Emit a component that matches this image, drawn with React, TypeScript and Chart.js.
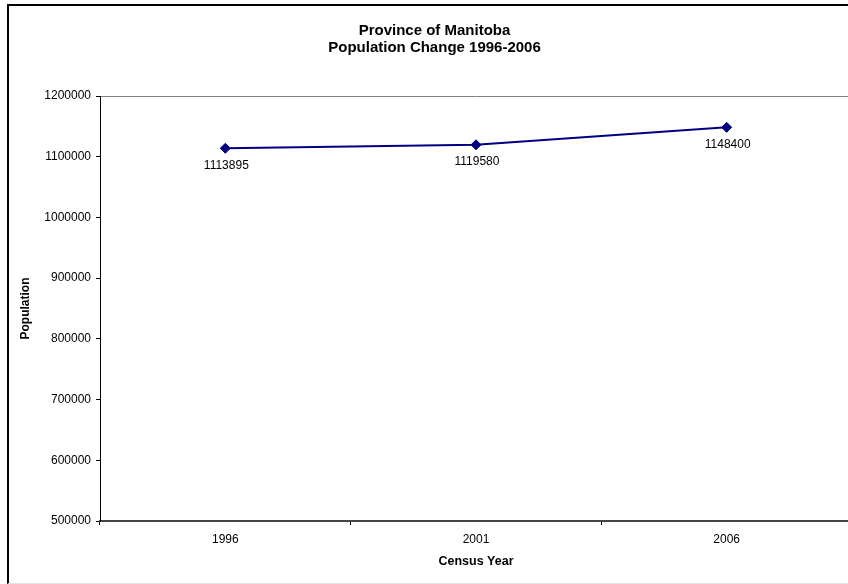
import React, { useEffect, useRef } from "react";
import { Chart, registerables } from "chart.js";

Chart.register(...registerables);

const titleLines = ["Province of Manitoba", "Population Change 1996-2006"];
const categories = ["1996", "2001", "2006"];
const population = [1113895, 1119580, 1148400];
const yMin = 500000;
const yMax = 1200000;
const yStep = 100000;
const xAxisTitle = "Census Year";
const yAxisTitle = "Population";

const FONT = "'Liberation Sans', Arial, Helvetica, sans-serif";

const dataLabelPlugin = {
  id: "dataLabels",
  afterDatasetsDraw(chart: any) {
    const ctx = chart.ctx;
    const meta = chart.getDatasetMeta(0);
    const values = chart.data.datasets[0].data;
    ctx.save();
    ctx.font = `12px ${FONT}`;
    ctx.fillStyle = "#000";
    ctx.textAlign = "center";
    ctx.textBaseline = "middle";
    meta.data.forEach((pt: any, i: number) => {
      ctx.fillText(String(values[i]), pt.x + 1, pt.y + 17);
    });
    ctx.restore();
  },
};

export default function App() {
  const ref = useRef<HTMLCanvasElement>(null);

  useEffect(() => {
    if (!ref.current) return;
    Chart.defaults.font.family = FONT;
    const chart = new Chart(ref.current, {
      type: "line",
      data: {
        labels: categories,
        datasets: [
          {
            data: population,
            borderColor: "#000080",
            backgroundColor: "#000080",
            borderWidth: 2,
            pointStyle: "rectRot",
            pointRadius: 5,
            pointBorderWidth: 1,
            pointBackgroundColor: "#000080",
            pointBorderColor: "#000080",
            tension: 0,
          },
        ],
      },
      options: {
        responsive: false,
        animation: false,
        layout: { padding: { left: 17, right: 18, top: 0, bottom: 0 } },
        plugins: {
          legend: { display: false },
          tooltip: { enabled: false },
          title: {
            display: true,
            text: titleLines,
            color: "#000",
            font: { size: 15, weight: "bold", lineHeight: 1.15, family: FONT },
            padding: { top: 22.4, bottom: 39.1 },
          },
        },
        scales: {
          x: {
            type: "category",
            offset: true,
            grid: {
              offset: true,
              drawOnChartArea: false,
              drawTicks: true,
              tickLength: 4,
              tickColor: "#000",
            },
            border: { color: "#444", width: 2 },
            ticks: {
              color: "#000",
              font: { size: 12, family: FONT },
              padding: 7,
              maxRotation: 0,
            },
            title: {
              display: true,
              text: xAxisTitle,
              color: "#000",
              font: { size: 12.5, weight: "bold", family: FONT },
              padding: { top: 0, bottom: 14.8 },
            },
            afterFit(scale: any) {
              scale.height = 63;
            },
          },
          y: {
            min: yMin,
            max: yMax,
            grid: {
              color: (c: any) => (c.tick && c.tick.value === yMax ? "#808080" : "rgba(0,0,0,0)"),
              lineWidth: 1,
              drawTicks: true,
              tickLength: 4,
              tickColor: "#000",
            },
            border: { color: "#000", width: 1 },
            ticks: {
              stepSize: yStep,
              color: "#000",
              font: { size: 12, family: FONT },
              padding: 5,
              callback: (v: any) => String(v),
            },
            title: {
              display: true,
              text: yAxisTitle,
              color: "#000",
              font: { size: 12, weight: "bold", family: FONT },
              padding: { top: 1.8, bottom: 0 },
            },
            afterFit(scale: any) {
              scale.width = 83;
            },
          },
        },
      },
      plugins: [dataLabelPlugin],
    } as any);
    return () => chart.destroy();
  }, []);

  return (
    <div
      style={{
        position: "fixed",
        left: 0,
        top: 0,
        width: 848,
        height: 584,
        overflow: "hidden",
        background: "#fff",
      }}
    >
      <div
        style={{
          position: "absolute",
          left: 7,
          top: 4,
          width: 900,
          height: 580,
          boxSizing: "border-box",
          borderTop: "2px solid #000",
          borderLeft: "2px solid #000",
          borderBottom: "1px solid #e4e4e4",
        }}
      />
      <canvas
        ref={ref}
        width={870}
        height={584}
        style={{ position: "absolute", left: 0, top: 0, width: 870, height: 584 }}
      />
    </div>
  );
}
